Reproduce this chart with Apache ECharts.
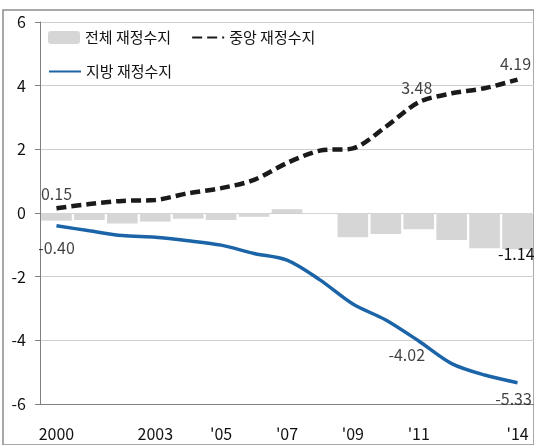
<!DOCTYPE html>
<html>
<head>
<meta charset="utf-8">
<script src="https://cdn.jsdelivr.net/npm/echarts@6/dist/echarts.min.js"></script>
<style>
html, body { margin: 0; padding: 0; background: #fff; }
#chart { width: 534px; height: 445px; }
</style>
</head>
<body>
<div id="chart"></div>
<script>
// 연도 (카테고리)
const years = ["2000","2001","2002","2003","2004","2005","2006","2007","2008","2009","2010","2011","2012","2013","2014"];
// x축 표시 라벨
const tickLabels = ["2000","","","2003","","'05","","'07","","'09","","'11","","","'14"];
// 전체 재정수지 (막대)
const total = [-0.24, -0.22, -0.33, -0.27, -0.18, -0.22, -0.12, 0.12, -0.03, -0.76, -0.66, -0.51, -0.85, -1.11, -1.14];
// 중앙 재정수지 (점선)
const central = [0.15, 0.28, 0.38, 0.41, 0.62, 0.78, 1.04, 1.57, 1.96, 2.03, 2.71, 3.48, 3.76, 3.92, 4.19];
// 지방 재정수지 (파란선)
const local = [-0.40, -0.56, -0.71, -0.76, -0.87, -1.01, -1.27, -1.48, -2.10, -2.86, -3.36, -4.02, -4.73, -5.09, -5.33];
const yTicks = [-6, -4, -2, 0, 2, 4, 6];

const numFont = "'Liberation Sans Narrow', 'Noto Sans CJK KR', sans-serif";
const krFont = "'Noto Sans CJK KR', sans-serif";

// 라벨 붙일 점만 골라서
const labelAt = (arr, conf) => arr.map((v, i) => conf[i] ? { value: v, label: Object.assign({ show: true }, conf[i]) } : { value: v, label: { show: false } });
const fmt2 = p => Number(p.value).toFixed(2);

// 선 위 값 라벨용 (크기 0 점)
const labelSeries = (arr, conf) => ({
	type: "scatter",
	data: labelAt(arr, conf),
	symbolSize: 0,
	itemStyle: { color: "#111" },
	label: { fontSize: 16, color: "#111", fontFamily: numFont, formatter: fmt2 },
	silent: true,
	z: 5
});

const chart = echarts.init(document.getElementById("chart"));

const option = {
	animation: false,
	textStyle: { fontFamily: numFont },
	grid: [
		{ left: 40, top: 22, width: 501, height: 382 },
		// 바깥 테두리 (위, 왼쪽만 보이도록 크게)
		{ show: true, left: 3, top: 10, width: 700, height: 600, borderColor: "#8c8c8c", borderWidth: 1.5, backgroundColor: "rgba(0,0,0,0)", z: 0 }
	],
	legend: [
		{
			data: ["전체 재정수지", { name: "중앙 재정수지", itemStyle: { opacity: 0 } }],
			left: 43, top: 25,
			itemWidth: 32, itemHeight: 13, itemGap: 20,
			textStyle: { fontFamily: krFont, fontSize: 15, color: "#111" }
		},
		{
			data: [{ name: "지방 재정수지", itemStyle: { opacity: 0 } }],
			left: 43, top: 59,
			itemWidth: 32, itemHeight: 13,
			textStyle: { fontFamily: krFont, fontSize: 15, color: "#111" }
		}
	],
	xAxis: [
		{
			type: "category",
			data: years,
			position: "bottom",
			axisLine: { show: false },
			axisTick: { show: false },
			axisLabel: {
				interval: 0,
				margin: 22,
				fontSize: 16,
				color: "#111",
				formatter: (v, i) => tickLabels[i]
			}
		},
		{
			type: "category",
			data: years,
			position: "bottom",
			axisLine: { onZero: true, lineStyle: { color: "#808080", width: 1 } },
			axisTick: { show: false },
			axisLabel: { show: false }
		},
		{ type: "value", gridIndex: 1, show: false }
	],
	yAxis: [
		{
			type: "value",
			min: -6,
			max: 6,
			interval: 2,
			axisLine: { show: true, lineStyle: { color: "#808080" } },
			axisTick: { show: true, length: 5, lineStyle: { color: "#808080" } },
			axisLabel: {
				margin: 14,
				fontSize: 16,
				color: "#111",
				formatter: v => yTicks.includes(v) ? String(v) : ""
			},
			splitLine: { show: true, lineStyle: { color: "#cfcfcf", width: 1, type: "solid" } }
		},
		{ type: "value", gridIndex: 1, show: false }
	],
	series: [
		{
			name: "전체 재정수지",
			type: "bar",
			data: labelAt(total, { 14: { position: "bottom", distance: 0, align: "right", offset: [17, -3] } }),
			barCategoryGap: "7%",
			itemStyle: { color: "#d6d6d6" },
			label: { fontSize: 16, color: "#111", formatter: fmt2 }
		},
		{
			name: "중앙 재정수지",
			type: "line",
			data: central,
			smooth: 0.3,
			symbol: "none",
			lineStyle: { color: "#1a1a1a", width: 4.5, type: [10, 5] },
			itemStyle: { color: "#1a1a1a" }
		},
		{
			name: "지방 재정수지",
			type: "line",
			data: local,
			smooth: 0.3,
			symbol: "none",
			lineStyle: { color: "#1b64a8", width: 3.5 },
			itemStyle: { color: "#1b64a8" }
		},
		labelSeries(central, {
			0: { position: "top", distance: 6 },
			11: { position: "top", distance: 6, offset: [-2, 0] },
			14: { position: "top", distance: 8, offset: [-2, 0] }
		}),
		labelSeries(local, {
			0: { position: "bottom", distance: 14 },
			11: { position: "bottom", distance: 6, offset: [-12, 0] },
			14: { position: "bottom", distance: 8, offset: [-4, 0] }
		})
	]
};

chart.setOption(option);
</script>
</body>
</html>
